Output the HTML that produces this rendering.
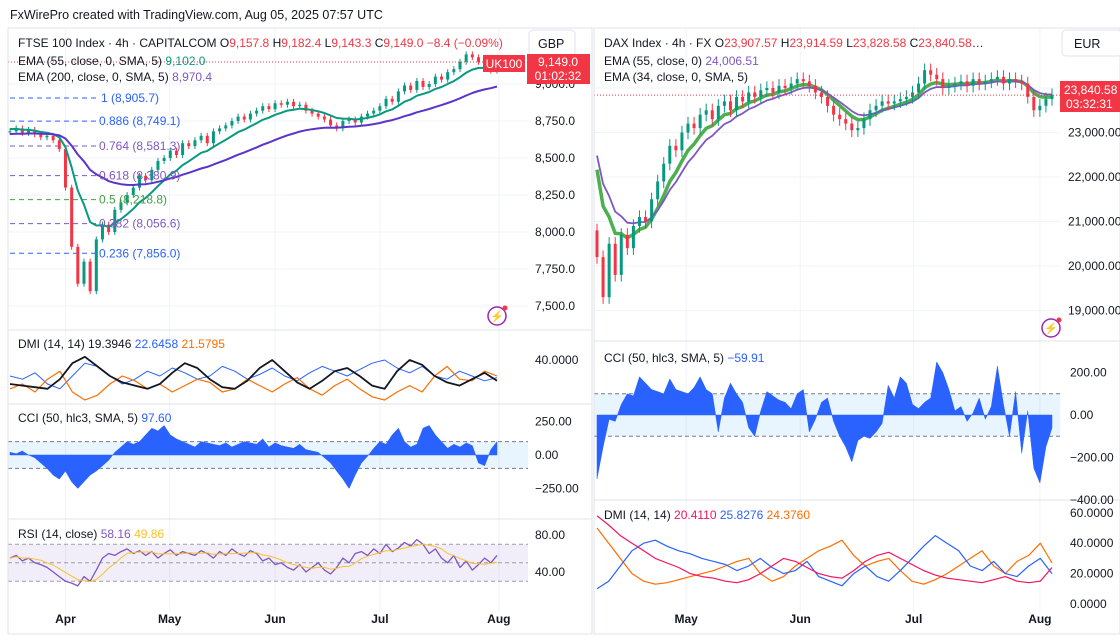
<!DOCTYPE html>
<html><head><meta charset="utf-8">
<style>
html,body{margin:0;padding:0;background:#fff;}
body{width:1120px;height:639px;overflow:hidden;font-family:"Liberation Sans",sans-serif;}
svg text{font-family:"Liberation Sans",sans-serif;}
</style></head>
<body>
<svg id="c" width="1120" height="639" viewBox="0 0 1120 639" xmlns="http://www.w3.org/2000/svg">
<rect x="0" y="0" width="1120" height="639" fill="#fff"/>
<text x="10" y="19" font-size="12.5" fill="#131722">FxWirePro created with TradingView.com, Aug 05, 2025 07:57 UTC</text>
<g id="grid"></g>
<g id="marks"></g>
<g id="ui">
  <rect x="8" y="28" width="584" height="606" fill="none" stroke="#e0e3eb"/>
  <rect x="594" y="28" width="526" height="606" fill="none" stroke="#e0e3eb"/>
  <line x1="8" y1="330" x2="592" y2="330" stroke="#e0e3eb"/>
  <line x1="8" y1="404" x2="592" y2="404" stroke="#e0e3eb"/>
  <line x1="8" y1="519" x2="592" y2="519" stroke="#e0e3eb"/>
  <line x1="594" y1="341" x2="1120" y2="341" stroke="#e0e3eb"/>
  <line x1="594" y1="500" x2="1120" y2="500" stroke="#e0e3eb"/>
  <rect x="529" y="30" width="46" height="26" rx="4" fill="#fff" stroke="#e0e3eb"/>
  <text x="538" y="48" font-size="12.5" fill="#131722">GBP</text>
  <rect x="1062" y="30" width="60" height="26" rx="4" fill="#fff" stroke="#e0e3eb"/>
  <text x="1074" y="48" font-size="12.5" fill="#131722">EUR</text>
</g>
<g id="text"></g>
</svg>
<script>
// ---------------- DATA ----------------
const ftseCloses=[8680,8700,8670,8690,8660,8640,8650,8620,8560,8300,7900,7650,7800,7600,7950,
8050,8000,8150,8200,8250,8300,8380,8350,8420,8480,
8500,8550,8520,8600,8580,8620,8650,8600,8680,8700,
8720,8750,8780,8760,8800,8820,8850,8830,8870,8860,
8880,8850,8860,8820,8800,8780,8760,8720,8700,8750,
8760,8740,8780,8800,8820,8850,8900,8880,8950,8990,
8960,9020,8980,9000,9050,9030,9080,9100,9150,9200,
9180,9150,9120,9090,9149];
const ftseCCI=[20,10,30,0,-20,-60,-100,-150,-180,-120,
-200,-250,-200,-150,-120,-80,-40,20,60,100,
80,100,150,200,180,220,150,120,100,80,
60,100,90,80,70,90,60,80,100,90,
80,120,60,90,70,60,50,80,40,30,
20,-20,-60,-120,-180,-250,-150,-60,-10,50,
100,80,150,200,100,60,80,200,220,150,
100,50,80,60,90,70,-60,-80,40,100];
const ftseRSI=[55,58,52,55,50,48,45,40,35,30,
28,25,35,30,42,55,60,58,62,65,
60,63,58,62,55,60,64,58,62,60,
58,63,60,55,62,58,65,60,57,63,
60,52,55,48,50,45,42,48,40,45,
50,42,38,45,55,50,60,62,58,65,
60,70,62,66,72,68,75,70,60,65,
55,50,58,45,52,42,48,55,50,58];
const ftseDIplus=[30,28,32,25,22,30,38,36,30,25,28,33,30,35,32,28,30,36,33,28,31,35,30,27,32,36,33,30,34,38,40,35,32,36,30,28,33,30,27,29];
const ftseDIminus=[22,25,20,28,33,20,15,18,25,30,27,22,25,20,24,28,26,20,22,28,24,20,25,29,22,18,24,28,22,17,15,20,24,20,30,36,28,27,33,30];
const ftseADX=[25,24,23,22,28,38,42,36,30,26,24,22,25,32,38,35,28,23,22,27,35,40,33,26,22,27,33,35,30,24,22,33,40,37,30,26,24,28,32,27];
const ftseTicks=[9000,8750,8500,8250,8000,7750,7500];
const ftseTickLabels=["9,000.0","8,750.0","8,500.0","8,250.0","8,000.0","7,750.0","7,500.0"];
const fibRatios=["1","0.886","0.764","0.618","0.5","0.382","0.236"];
const fibValues=[8905.7,8749.1,8581.3,8380.9,8218.8,8056.6,7856.0];
const fibLabels=["(8,905.7)","(8,749.1)","(8,581.3)","(8,380.9)","(8,218.8)","(8,056.6)","(7,856.0)"];
const leftMonths=["Apr","May","Jun","Jul","Aug"];
const leftMonthIdx=[9,25.9,43,60,79.3];

const daxCloses=[20200,19300,20500,19800,20700,20400,20900,21100,21000,21500,
21900,22300,22700,22600,23000,23200,23100,23400,23500,23300,
23600,23700,23500,23800,23700,23900,23800,23950,24000,23900,
24050,24000,24100,24200,24150,24050,23900,23800,23600,23400,
23300,23200,23050,23100,23300,23500,23600,23700,23650,23700,
23750,23800,23900,24100,24400,24300,24200,24000,24050,24100,
24150,24050,24200,24100,24150,24200,24250,24100,24200,24150,
24100,23800,23500,23600,23750,23840];
const daxCCI=[-300,-150,-20,-30,50,100,90,180,150,120,
110,100,170,120,110,100,130,180,120,100,
-80,80,150,100,60,-60,-100,20,110,90,
70,60,30,100,120,-80,-20,60,80,-30,
-100,-150,-220,-120,-100,-110,-80,-40,140,80,
180,150,50,30,60,80,250,200,120,20,
40,-30,10,80,-20,40,230,50,-100,110,
-180,20,-250,-320,-150,-60];
const daxADX=[58,52,45,40,35,30,27,24,20,18,17,15,14,16,20,25,30,28,24,20,18,17,22,28,32,34,30,26,22,19,17,16,15,14,16,18,15,14,15,24];
const daxDIplus=[10,15,25,35,40,42,38,35,33,30,28,26,22,25,30,24,20,22,28,18,15,12,20,25,18,15,22,30,38,45,40,35,25,22,28,20,18,25,30,20];
const daxDIminus=[50,40,30,20,15,13,14,16,18,20,22,25,28,30,20,15,18,25,30,35,38,42,32,25,28,30,22,15,13,16,20,25,30,35,25,20,28,32,40,27];
const daxTicks=[24000,23000,22000,21000,20000,19000];
const daxTickLabels=["24,000.00","23,000.00","22,000.00","21,000.00","20,000.00","19,000.00"];
const rightMonths=["May","Jun","Jul","Aug"];
const rightMonthIdx=[14.7,33.5,52.2,73];

// ---------------- HELPERS ----------------
const NS="http://www.w3.org/2000/svg";
const G=document.getElementById('grid'),M=document.getElementById('marks'),T=document.getElementById('text');
function mk(tag,parent,attrs){const e=document.createElementNS(NS,tag);for(const k in attrs)e.setAttribute(k,attrs[k]);parent.appendChild(e);return e;}
function txt(s,x,y,size,fill,parent,anchor){const e=mk('text',parent||T,{x:x,y:y,'font-size':size||12,fill:fill||'#131722'});if(anchor)e.setAttribute('text-anchor',anchor);e.textContent=s;return e;}
function ema(arr,p,seed){const a=2/(p+1);let v=seed,out=[];for(const c of arr){v=v+a*(c-v);out.push(v);}return out;}
function sma(arr,p){return arr.map((_,i)=>{const s=arr.slice(Math.max(0,i-p+1),i+1);return s.reduce((a,b)=>a+b,0)/s.length;});}
function poly(pts,color,w,name){const e=mk('polyline',M,{points:pts.map(p=>p[0].toFixed(1)+','+p[1].toFixed(1)).join(' '),fill:'none',stroke:color,'stroke-width':w,'stroke-linejoin':'round'});


return e;}

// ---------------- LEFT (FTSE) ----------------
const lx=i=>10+i*(487/(ftseCloses.length-1));
const ly=v=>84+(9000-v)*0.148;
const lxs=(i,n)=>10+i*(487/(n-1));
// grid
leftMonthIdx.forEach((m,k)=>{const l=mk('line',G,{x1:lx(m),y1:28,x2:lx(m),y2:612,stroke:'#f0f3fa'});

});
ftseTicks.forEach((t,k)=>{const y=ly(t);const l=mk('line',G,{x1:8,y1:y,x2:528,y2:y,stroke:'#f0f3fa'});


const e=txt(ftseTickLabels[k],535,y+4,12,'#131722');

});
// fib
fibValues.forEach((v,k)=>{const y=ly(v);const col=['#2962ff','#2962ff','#7e57c2','#7e57c2','#43a047','#7e57c2','#2962ff'][k];
const l=mk('line',M,{x1:10,y1:y,x2:96,y2:y,stroke:col,'stroke-dasharray':'5,4','stroke-width':1});


const e=txt(fibRatios[k]+' '+fibLabels[k],k==0?101:99,y+4,12,col);

});
// candles
ftseCloses.forEach((c,i)=>{const o=i?ftseCloses[i-1]:c;const up=c>=o;const col=up?'#089981':'#f23645';const x=lx(i);
const hi=Math.max(o,c)+20,lo=Math.min(o,c)-20;
const w=mk('line',M,{x1:x,y1:ly(hi),x2:x,y2:ly(lo),stroke:col,'stroke-width':1});


const b=mk('rect',M,{x:x-1.5,y:ly(Math.max(o,c)),width:3,height:Math.max(1,Math.abs(ly(o)-ly(c))),fill:col});

});
const e55=ema(ftseCloses,9,8700),e200=ema(ftseCloses,30,8660);
poly(e55.map((v,i)=>[lx(i),ly(v)]),'#089981',2,'ftse-ema55-line');
poly(e200.map((v,i)=>[lx(i),ly(v)]),'#5b34c9',2,'ftse-ema200-line');
// last price line
{const l=mk('line',M,{x1:8,y1:ly(9149),x2:528,y2:ly(9149),stroke:'#f23645','stroke-dasharray':'1,2'});

}
// DMI left
const ldy=v=>360+(40-v)*1.6;
poly(ftseDIplus.map((v,i)=>[lxs(i,40),ldy(v)]),'#2962ff',1,'ftse-di-plus');
poly(ftseDIminus.map((v,i)=>[lxs(i,40),ldy(v)]),'#ff6d00',1.2,'ftse-di-minus');
poly(ftseADX.map((v,i)=>[lxs(i,40),ldy(v)]),'#131722',1.8,'ftse-adx');
{const e=txt('40.0000',535,364,12);}
// CCI left
const lcy=v=>455-v*33.5/250;
{const r=mk('rect',M,{x:8,y:lcy(100),width:520,height:lcy(-100)-lcy(100),fill:'#2196f3','fill-opacity':0.1});


[100,-100].forEach(v=>{const l=mk('line',M,{x1:8,y1:lcy(v),x2:528,y2:lcy(v),stroke:'#787b86','stroke-dasharray':'4,3'});

});}
{let d='M'+lx(0)+','+lcy(0);ftseCCI.forEach((v,i)=>{d+=' L'+lx(i).toFixed(1)+','+lcy(v).toFixed(1);});d+=' L'+lx(ftseCCI.length-1)+','+lcy(0)+'Z';
const p=mk('path',M,{d:d,fill:'#2962ff',stroke:'#2962ff','stroke-width':0.5});

}
[["250.00",250],["0.00",0],["−250.00",-250]].forEach(a=>{const e=txt(a[0],535,lcy(a[1])+4,12);

});
// RSI left
const lry=v=>535+(80-v)*0.925;
{const r=mk('rect',M,{x:8,y:lry(70),width:520,height:lry(30)-lry(70),fill:'#7e57c2','fill-opacity':0.1});


[70,50,30].forEach(v=>{const l=mk('line',M,{x1:8,y1:lry(v),x2:528,y2:lry(v),stroke:'#787b86','stroke-dasharray':'4,3','stroke-opacity':0.7});

});}
poly(ftseRSI.map((v,i)=>[lx(i),lry(v)]),'#7e57c2',1.3,'ftse-rsi-line');
poly(sma(ftseRSI,5).map((v,i)=>[lx(i),lry(v)]),'#fbc02d',1,'ftse-rsi-sma-line');
[["80.00",80],["40.00",40]].forEach(a=>{const e=txt(a[0],535,lry(a[1])+4,12);

});
leftMonths.forEach((m,k)=>{const e=txt(m,lx(leftMonthIdx[k]),623,12,'#131722','' );e.setAttribute('text-anchor','middle');e.setAttribute('font-weight','bold');

});

// ---------------- RIGHT (DAX) ----------------
const rx=i=>597+i*(455/(daxCloses.length-1));
const ry=v=>88+(24000-v)*0.0445;
const rxs=(i,n)=>597+i*(455/(n-1));
rightMonthIdx.forEach(m=>{const l=mk('line',G,{x1:rx(m),y1:28,x2:rx(m),y2:612,stroke:'#f0f3fa'});

});
daxTicks.forEach((t,k)=>{const y=ry(t);const l=mk('line',G,{x1:594,y1:y,x2:1060,y2:y,stroke:'#f0f3fa'});


const e=txt(daxTickLabels[k],1068,y+4,12);

});
const dg=ema(daxCloses,6,22950),dp=ema(daxCloses,9,23050);
poly(dg.map((v,i)=>[rx(i),ry(v)]),'#4caf50',3.5,'dax-ema34-line');
poly(dp.map((v,i)=>[rx(i),ry(v)]),'#7e57c2',1.8,'dax-ema55-line');
daxCloses.forEach((c,i)=>{const o=i?daxCloses[i-1]:20800;const up=c>=o;const col=up?'#089981':'#f23645';const x=rx(i);
const hi=Math.max(o,c)+150,lo=Math.min(o,c)-150;
const w=mk('line',M,{x1:x,y1:ry(hi),x2:x,y2:ry(lo),stroke:col,'stroke-width':1});


const b=mk('rect',M,{x:x-1.5,y:ry(Math.max(o,c)),width:3,height:Math.max(1,Math.abs(ry(o)-ry(c))),fill:col});

});
{const l=mk('line',M,{x1:594,y1:ry(23840.58),x2:1060,y2:ry(23840.58),stroke:'#f23645','stroke-dasharray':'1,2'});

}
// CCI right
const rcy=v=>415-v*42.5/200;
{const r=mk('rect',M,{x:594,y:rcy(100),width:466,height:rcy(-100)-rcy(100),fill:'#2196f3','fill-opacity':0.1});


[100,-100].forEach(v=>{const l=mk('line',M,{x1:594,y1:rcy(v),x2:1060,y2:rcy(v),stroke:'#787b86','stroke-dasharray':'4,3'});

});}
{let d='M'+rx(0)+','+rcy(0);daxCCI.forEach((v,i)=>{d+=' L'+rx(i).toFixed(1)+','+rcy(v).toFixed(1);});d+=' L'+rx(daxCCI.length-1)+','+rcy(0)+'Z';
const p=mk('path',M,{d:d,fill:'#2962ff',stroke:'#2962ff','stroke-width':0.5});

}
[["200.00",200],["0.00",0],["−200.00",-200],["−400.00",-400]].forEach(a=>{const e=txt(a[0],1070,rcy(a[1])+4,12);

});
// DMI right
const rdy=v=>604-v*1.52;
poly(daxDIminus.map((v,i)=>[rxs(i,40),rdy(v)]),'#ff6d00',1.2,'dax-di-minus');
poly(daxDIplus.map((v,i)=>[rxs(i,40),rdy(v)]),'#2962ff',1.2,'dax-di-plus');
poly(daxADX.map((v,i)=>[rxs(i,40),rdy(v)]),'#f7125d',1.2,'dax-adx');
[["60.0000",60],["40.0000",40],["20.0000",20],["0.0000",0]].forEach(a=>{const e=txt(a[0],1070,rdy(a[1])+4,12);

});
rightMonths.forEach((m,k)=>{const e=txt(m,rx(rightMonthIdx[k]),623,12);e.setAttribute('text-anchor','middle');e.setAttribute('font-weight','bold');

});
</script>
<svg width="1120" height="639" style="position:absolute;left:0;top:0" xmlns="http://www.w3.org/2000/svg">
 <g font-size="12" font-family="Liberation Sans, sans-serif">
  <text x="18" y="47" fill="#131722">FTSE 100 Index · 4h · CAPITALCOM <tspan fill="#131722">O</tspan><tspan fill="#f23645">9,157.8</tspan>  <tspan>H</tspan><tspan fill="#f23645">9,182.4</tspan>  <tspan>L</tspan><tspan fill="#f23645">9,143.3</tspan>  <tspan>C</tspan><tspan fill="#f23645">9,149.0  −8.4 (−0.09%)</tspan></text>
  <text x="18" y="65" fill="#131722">EMA (55, close, 0, SMA, 5) <tspan fill="#089981">9,102.0</tspan></text>
  <text x="18" y="81" fill="#131722">EMA (200, close, 0, SMA, 5) <tspan fill="#7e57c2">8,970.4</tspan></text>
  <text x="18" y="348" fill="#131722">DMI (14, 14) <tspan>19.3946</tspan>  <tspan fill="#2962ff">22.6458</tspan>  <tspan fill="#ff6d00">21.5795</tspan></text>
  <text x="18" y="422" fill="#131722">CCI (50, hlc3, SMA, 5) <tspan fill="#2962ff">97.60</tspan></text>
  <text x="18" y="538" fill="#131722">RSI (14, close) <tspan fill="#7e57c2">58.16</tspan> <tspan fill="#fbc02d">49.86</tspan></text>
  <rect x="483" y="55" width="42" height="17" fill="#f23645"/>
  <text x="504" y="68" fill="#fff" text-anchor="middle" font-size="12">UK100</text>
  <rect x="527" y="54" width="63" height="30" fill="#f23645"/>
  <text x="558" y="66" fill="#fff" text-anchor="middle">9,149.0</text>
  <text x="558" y="80" fill="#fff" text-anchor="middle">01:02:32</text>
  <circle cx="497" cy="316" r="9" fill="none" stroke="#9c27b0" stroke-width="1.5"/>
  <text x="497" y="320" fill="#9c27b0" text-anchor="middle" font-size="11">⚡</text>
  <circle cx="505" cy="308" r="2.5" fill="#f23645"/>

  <text x="604" y="47" fill="#131722">DAX Index · 4h · FX <tspan>O</tspan><tspan fill="#f23645">23,907.57</tspan>  <tspan>H</tspan><tspan fill="#f23645">23,914.59</tspan>  <tspan>L</tspan><tspan fill="#f23645">23,828.58</tspan>  <tspan>C</tspan><tspan fill="#f23645">23,840.58</tspan>…</text>
  <text x="604" y="65" fill="#131722">EMA (55, close, 0) <tspan fill="#7e57c2">24,006.51</tspan></text>
  <text x="604" y="81" fill="#131722">EMA (34, close, 0, SMA, 5)</text>
  <text x="604" y="362" fill="#131722">CCI (50, hlc3, SMA, 5) <tspan fill="#2962ff">−59.91</tspan></text>
  <text x="604" y="519" fill="#131722">DMI (14, 14) <tspan fill="#f7125d">20.4110</tspan>  <tspan fill="#2962ff">25.8276</tspan>  <tspan fill="#ff6d00">24.3760</tspan></text>
  <rect x="1060" y="81" width="60" height="31" fill="#f23645"/>
  <text x="1064" y="94" fill="#fff">23,840.58</text>
  <text x="1066" y="108" fill="#fff">03:32:31</text>
  <circle cx="1051" cy="328" r="9" fill="none" stroke="#9c27b0" stroke-width="1.5"/>
  <text x="1051" y="332" fill="#9c27b0" text-anchor="middle" font-size="11">⚡</text>
  <circle cx="1059" cy="320" r="2.5" fill="#f23645"/>
 </g>
</svg>
</body></html>
